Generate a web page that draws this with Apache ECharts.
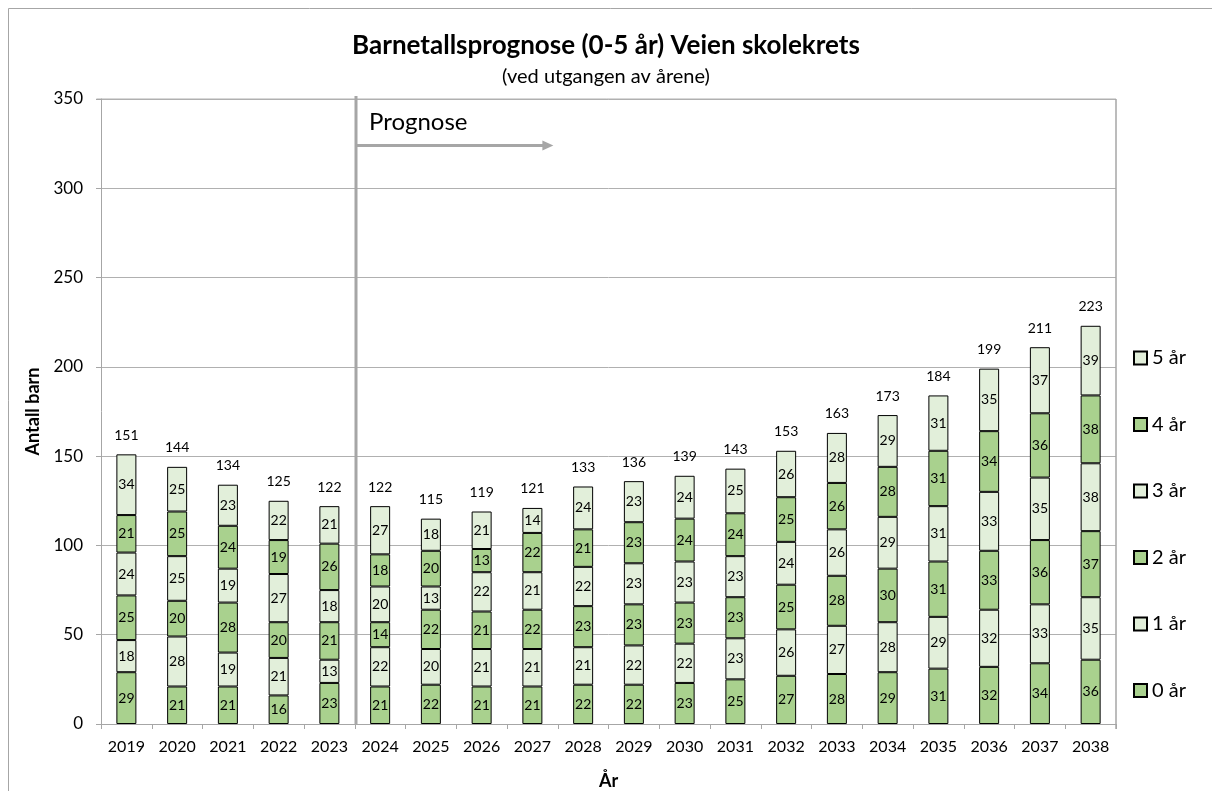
<!DOCTYPE html>
<html>
<head>
<meta charset="utf-8">
<script src="https://cdn.jsdelivr.net/npm/echarts@6/dist/echarts.min.js"></script>
<style>
html, body { margin: 0; padding: 0; background: #fff; }
#chart { width: 1212px; height: 791px; }
</style>
</head>
<body>
<div id="chart"></div>
<script>
var years = ['2019','2020','2021','2022','2023','2024','2025','2026','2027','2028',
             '2029','2030','2031','2032','2033','2034','2035','2036','2037','2038'];
var age0 = [29, 21, 21, 16, 23, 21, 22, 21, 21, 22, 22, 23, 25, 27, 28, 29, 31, 32, 34, 36];
var age1 = [18, 28, 19, 21, 13, 22, 20, 21, 21, 21, 22, 22, 23, 26, 27, 28, 29, 32, 33, 35];
var age2 = [25, 20, 28, 20, 21, 14, 22, 21, 22, 23, 23, 23, 23, 25, 28, 30, 31, 33, 36, 37];
var age3 = [24, 25, 19, 27, 18, 20, 13, 22, 21, 22, 23, 23, 23, 24, 26, 29, 31, 33, 35, 38];
var age4 = [21, 25, 24, 19, 26, 18, 20, 13, 22, 21, 23, 24, 24, 25, 26, 28, 31, 34, 36, 38];
var age5 = [34, 25, 23, 22, 21, 27, 18, 21, 14, 24, 23, 24, 25, 26, 28, 29, 31, 35, 37, 39];
var seriesNames = ['0 år', '1 år', '2 år', '3 år', '4 år', '5 år'];
var yTicks = [0, 50, 100, 150, 200, 250, 300, 350];
var prognoseStart = '2024';
var arrowLevel = 324;
var arrowEndYear = '2027';

var dark = '#A9D18E';
var light = '#E2EFDA';
var font = 'Lato, "Open Sans", sans-serif';

var allAges = [age0, age1, age2, age3, age4, age5];
var totals = [];
for (var i = 0; i < years.length; i++) {
    var s = 0;
    for (var j = 0; j < allAges.length; j++) s += allAges[j][i];
    totals.push(s);
}

var series = [];
for (var k = 0; k < allAges.length; k++) {
    series.push({
        name: seriesNames[k],
        type: 'bar',
        stack: 'barn',
        barWidth: 20,
        data: allAges[k],
        itemStyle: {
            color: k % 2 === 0 ? dark : light,
            borderColor: '#000',
            borderWidth: 1
        },
        label: {
            show: true,
            position: 'inside',
            color: '#000',
            fontSize: 14,
            fontFamily: font
        }
    });
}
// totals above each stack
series.push({
    name: 'Sum',
    type: 'bar',
    stack: 'barn',
    barWidth: 20,
    data: years.map(function () { return 0; }),
    itemStyle: { color: 'transparent', borderWidth: 0 },
    label: {
        show: true,
        position: 'top',
        distance: 12,
        color: '#000',
        fontSize: 14,
        fontFamily: font,
        formatter: function (p) { return totals[p.dataIndex]; }
    }
});

var chart = echarts.init(document.getElementById('chart'));
chart.setOption({
    animation: false,
    backgroundColor: '#fff',
    textStyle: { fontFamily: font },
    title: {
        text: 'Barnetallsprognose (0-5 år) Veien skolekrets',
        subtext: '(ved utgangen av årene)',
        left: 'center',
        top: 28,
        itemGap: 8,
        textStyle: { fontSize: 26, fontWeight: 'bold', color: '#000', fontFamily: font },
        subtextStyle: { fontSize: 20, color: '#000', fontFamily: font }
    },
    legend: {
        orient: 'vertical',
        left: 1128,
        top: 343,
        itemWidth: 13,
        itemHeight: 13,
        itemGap: 46.5,
        icon: 'rect',
        data: seriesNames.slice().reverse(),
        textStyle: { fontSize: 20, color: '#000', fontFamily: font }
    },
    grid: { left: 101, right: 96, top: 99, bottom: 67, outerBoundsMode: 'none', containLabel: false },
    xAxis: {
        type: 'category',
        data: years,
        name: 'År',
        nameLocation: 'middle',
        nameGap: 48,
        nameTextStyle: { fontSize: 18, fontWeight: 'bold', color: '#000' },
        axisLine: { lineStyle: { color: '#A6A6A6', width: 1 } },
        axisTick: { show: true, length: 5, lineStyle: { color: '#A6A6A6' } },
        axisLabel: { color: '#000', fontSize: 16, margin: 15, interval: 0 }
    },
    yAxis: {
        type: 'value',
        min: yTicks[0],
        max: yTicks[yTicks.length - 1],
        interval: 50,
        name: 'Antall barn',
        nameLocation: 'middle',
        nameGap: 56,
        nameTextStyle: { fontSize: 18, fontWeight: 'bold', color: '#000' },
        axisLine: { show: true, lineStyle: { color: '#A6A6A6' } },
        axisTick: { show: true, length: 5, lineStyle: { color: '#A6A6A6' } },
        axisLabel: { color: '#000', fontSize: 17, margin: 18 },
        splitLine: { lineStyle: { color: '#B0B0B0', width: 1 } }
    },
    series: series
});

// annotations placed from the axes
var yearIdx = years.indexOf(prognoseStart);
var xPrev = chart.convertToPixel({ xAxisIndex: 0 }, years[yearIdx - 1]);
var xNext = chart.convertToPixel({ xAxisIndex: 0 }, years[yearIdx]);
var sepX = Math.round((xPrev + xNext) / 2) + 1;
var yTop = chart.convertToPixel({ yAxisIndex: 0 }, yTicks[yTicks.length - 1]);
var yBottom = chart.convertToPixel({ yAxisIndex: 0 }, 0);
var yArrow = chart.convertToPixel({ yAxisIndex: 0 }, arrowLevel);
var xEnd = chart.convertToPixel({ xAxisIndex: 0 }, arrowEndYear) + 21;
var gridRight = chart.getWidth() - 96;

chart.setOption({
    graphic: [
        { type: 'rect', shape: { x: 8.5, y: 8.5, width: 1400, height: 1000 },
          style: { fill: 'none', stroke: '#A6A6A6', lineWidth: 1 }, silent: true },
        { type: 'line', shape: { x1: chart.convertToPixel({ xAxisIndex: 0 }, years[0]) - 30, y1: yTop, x2: gridRight, y2: yTop },
          style: { stroke: '#B0B0B0', lineWidth: 1 }, silent: true },
        { type: 'line', shape: { x1: gridRight, y1: yTop, x2: gridRight, y2: yBottom + 5 },
          style: { stroke: '#A6A6A6', lineWidth: 1.5 }, silent: true },
        { type: 'line', shape: { x1: sepX, y1: yTop - 3, x2: sepX, y2: yBottom },
          style: { stroke: '#A6A6A6', lineWidth: 3 }, z: 10 },
        { type: 'line', shape: { x1: sepX, y1: yArrow, x2: xEnd - 10, y2: yArrow },
          style: { stroke: '#A6A6A6', lineWidth: 3 }, z: 10 },
        { type: 'polygon', shape: { points: [[xEnd - 11, yArrow - 5], [xEnd, yArrow], [xEnd - 11, yArrow + 5]] },
          style: { fill: '#A6A6A6' }, z: 10 },
        { type: 'text', left: sepX + 13, top: yArrow - 35,
          style: { text: 'Prognose', fontSize: 24, fill: '#000', fontFamily: font }, z: 10 }
    ]
});
</script>
</body>
</html>
